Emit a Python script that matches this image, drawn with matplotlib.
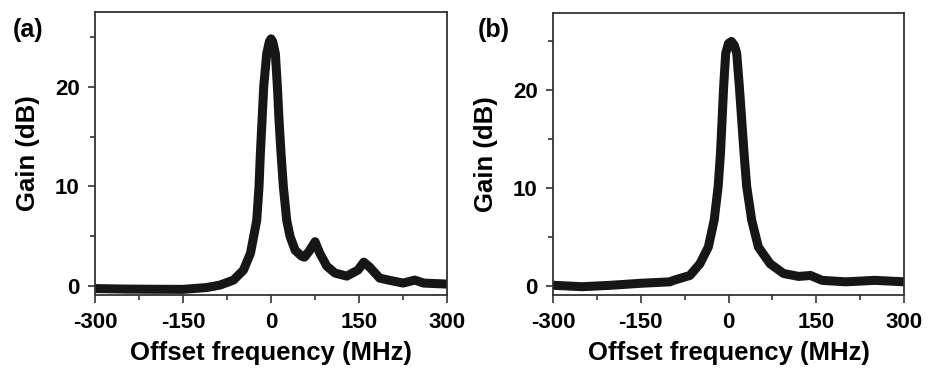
import numpy as np
import matplotlib.pyplot as plt
from matplotlib.ticker import MultipleLocator

plt.rcParams['font.family'] = ['Liberation Sans', 'DejaVu Sans']
plt.rcParams['font.weight'] = 'bold'
plt.rcParams['axes.unicode_minus'] = False

# panel (a): gain spectrum with side peaks
freq_a = [-300, -250, -200, -150, -110, -87, -64, -47, -35, -24.4, -20.5, -18.2, -15.3, -12.5, -7.4, -3,
          0, 3, 7.4, 10.8, 13.6, 17, 21, 26.7, 32.4, 41, 52, 57, 65, 75, 83, 95, 109, 129, 148,
          158, 168, 185, 200, 225, 245, 260, 300]
gain_a = [-0.25, -0.3, -0.32, -0.33, -0.15, 0.1, 0.6, 1.6, 3.3, 6.6, 9.96, 13.3, 16.65, 20.0, 23.3, 24.5,
          24.8, 24.5, 23.3, 20.0, 16.65, 13.3, 9.96, 6.6, 4.98, 3.6, 3.0, 2.9, 3.5, 4.45, 3.3, 2.0, 1.3, 1.0, 1.6,
          2.4, 1.9, 0.8, 0.6, 0.3, 0.6, 0.3, 0.2]

# panel (b): single gain peak
freq_b = [-300, -250, -200, -150, -100, -94, -66, -48.8, -34.5, -24.5, -17.7, -13.7, -11, -8.3, -4.8,
          0, 5, 10, 14, 18.5, 22.5, 26.5, 31, 39.6, 51, 71, 94, 120, 140, 160, 200, 250, 300]
gain_b = [0.1, -0.05, 0.1, 0.3, 0.45, 0.6, 1.1, 2.3, 4.0, 6.75, 10.2, 13.6, 17.0, 20.4, 23.8,
          24.8, 25.0, 24.6, 23.8, 20.4, 17.0, 13.6, 10.2, 6.75, 4.0, 2.3, 1.3, 1.0, 1.1, 0.6, 0.45, 0.6, 0.45]

xticks = [-300, -150, 0, 150, 300]
panels = [("(a)", freq_a, gain_a, [0.1017, 0.209, 0.377, 0.759], 0.014, (-0.9, 27.5)),
          ("(b)", freq_b, gain_b, [0.592, 0.209, 0.376, 0.756], 0.511, (-0.9, 27.9))]

fig = plt.figure(figsize=(9.34, 3.73), dpi=100)

for tag, fx, gy, rect, tx, ylim in panels:
    ax = fig.add_axes(rect)
    ax.plot(fx, gy, color="#161616", linewidth=6.5, solid_joinstyle="round", solid_capstyle="round")
    ax.set_xlim(-300, 300)
    ax.set_ylim(*ylim)
    ax.set_xticks(xticks)
    ax.set_yticks([0, 10, 20])
    ax.xaxis.set_minor_locator(MultipleLocator(75))
    ax.yaxis.set_minor_locator(MultipleLocator(5))
    ax.tick_params(which="both", direction="out", top=False, right=False,
                   labelsize=16, width=1.2, color="#333333")
    ax.tick_params(axis="x", which="major", length=6, pad=6)
    ax.tick_params(axis="y", which="major", length=5, pad=6)
    ax.tick_params(which="minor", length=3.5)
    for s in ax.spines.values():
        s.set_linewidth(1.3)
        s.set_color("#333333")
    ax.set_xlabel("Offset frequency (MHz)", fontsize=18.5, fontweight="bold", labelpad=6)
    ax.set_ylabel("Gain (dB)", fontsize=18.5, fontweight="bold", labelpad=11)
    fig.text(tx, 0.90, tag, fontsize=18, fontweight="bold")

fig.savefig("out.png", dpi=100)
